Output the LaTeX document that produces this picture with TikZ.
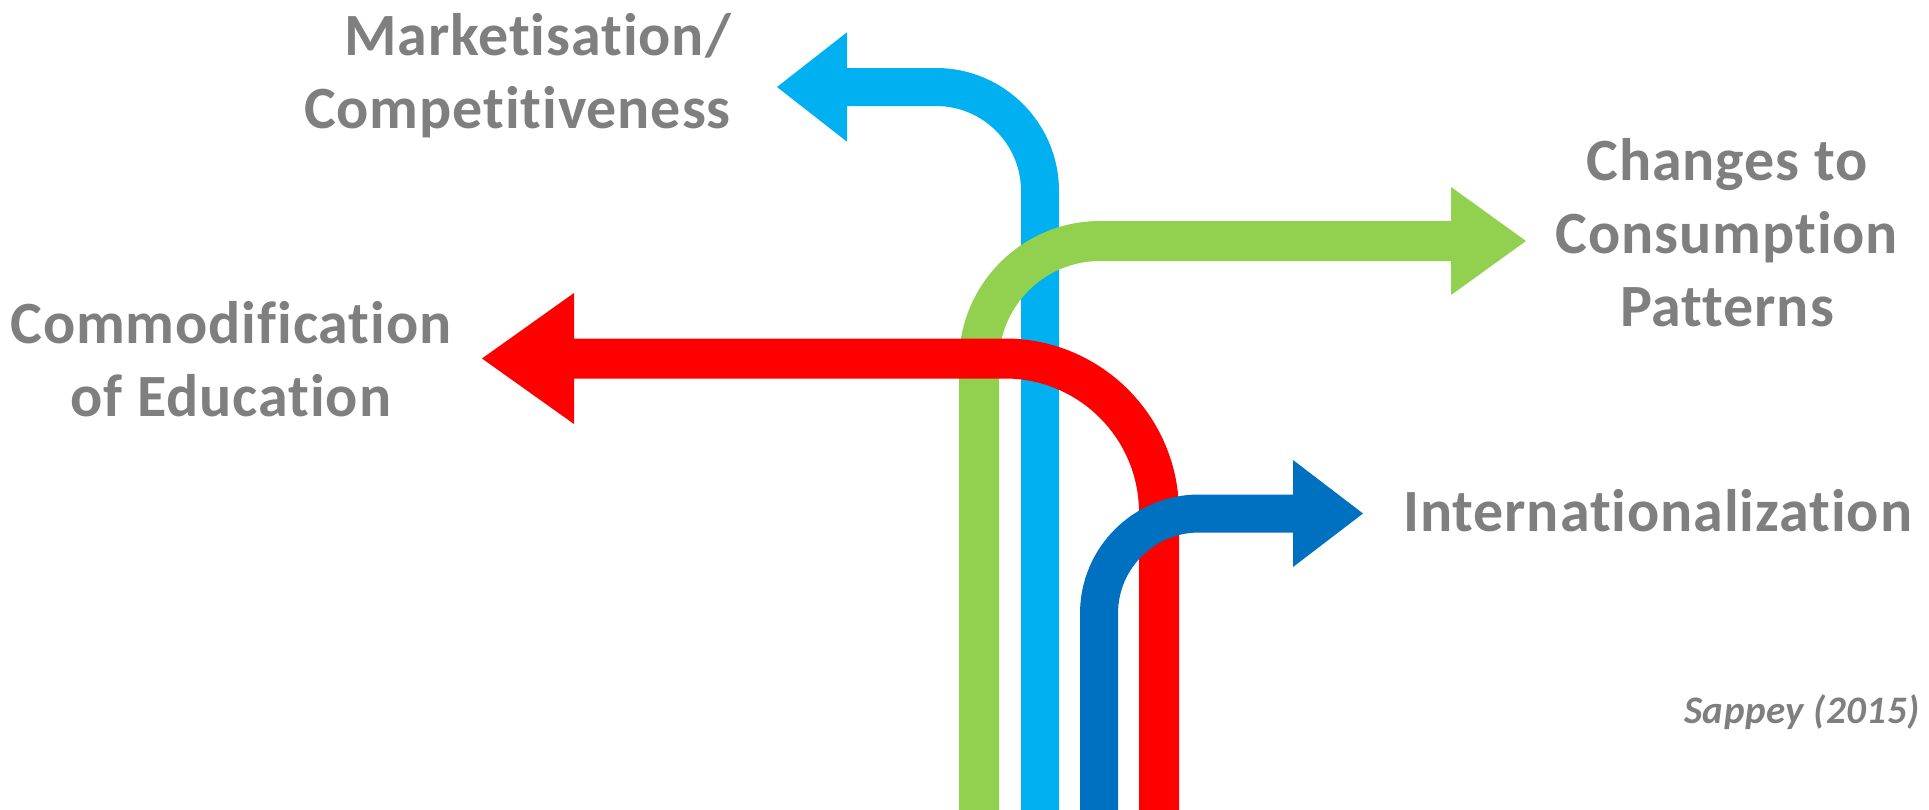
\documentclass[tikz,border=0pt]{standalone}
\usepackage{fontspec}
\setmainfont{Carlito}[Ligatures={NoCommon,NoContextual},LetterSpace=1.5]
\usetikzlibrary{calc}
\definecolor{cLB}{HTML}{00B0F0}
\definecolor{cGR}{HTML}{92D050}
\definecolor{cRD}{HTML}{FF0000}
\definecolor{cDB}{HTML}{0070C0}
\definecolor{cGray}{HTML}{7F7F7F}
\begin{document}
\begin{tikzpicture}[x=1pt,y=-1pt,
  lbl/.style={inner sep=0pt, text=cGray, font=\bfseries\fontsize{60}{73}\selectfont},
  cite/.style={inner sep=0pt, text=cGray, font=\bfseries\itshape\fontsize{39}{47}\selectfont},
  band/.style={line width=#1, line cap=butt},
]
\useasboundingbox (0,0) rectangle (1929,809);

% light blue: Marketisation
\coordinate (bS) at (1040,815);
\coordinate (bB) at (847,87);
\coordinate (bT) at (777,87);
\draw[cLB, band=38pt, rounded corners=104pt] (bS) |- ($(bB)+(-4,0)$);
\fill[cLB] (bT) -- ($(bB)+(0,-54.7)$) -- ($(bB)+(0,54.7)$) -- cycle;

% green: Consumption
\coordinate (gS) at (979,815);
\coordinate (gB) at (1451,241);
\coordinate (gT) at (1526,241);
\draw[cGR, band=40pt, rounded corners=121pt] (gS) |- ($(gB)+(4,0)$);
\fill[cGR] (gT) -- ($(gB)+(0,-54)$) -- ($(gB)+(0,54)$) -- cycle;

% red: Commodification
\coordinate (rS) at (1159,815);
\coordinate (rB) at (574,358.5);
\coordinate (rT) at (482,358.5);
\draw[cRD, band=40pt, rounded corners=154pt] (rS) |- ($(rB)+(-4,0)$);
\fill[cRD] (rT) -- ($(rB)+(0,-65.5)$) -- ($(rB)+(0,65.5)$) -- cycle;

% dark blue: Internationalization
\coordinate (dS) at (1099,815);
\coordinate (dB) at (1293,513.5);
\coordinate (dT) at (1363,513.5);
\draw[cDB, band=38pt, rounded corners=100pt] (dS) |- ($(dB)+(4,0)$);
\fill[cDB] (dT) -- ($(dB)+(0,-53.5)$) -- ($(dB)+(0,53.5)$) -- cycle;

% labels
\node[lbl, anchor=base east] (m1) at (731,55) {Marketisation/};
\node[lbl, anchor=base east] (m2) at (731,128) {Competitiveness};
\node[lbl, anchor=base] (c1) at (1727,180) {Changes to};
\node[lbl, anchor=base] (c2) at (1727,253) {Consumption};
\node[lbl, anchor=base] (c3) at (1727,326) {Patterns};
\node[lbl, anchor=base] (e1) at (231,343) {Commodification};
\node[lbl, anchor=base] (e2) at (231,416) {of Education};
\node[lbl, anchor=base west] (i1) at (1403,531) {Internationalization};
\node[cite, anchor=base east] (s1) at (1920,723) {Sappey (2015)};
\end{tikzpicture}
\end{document}
